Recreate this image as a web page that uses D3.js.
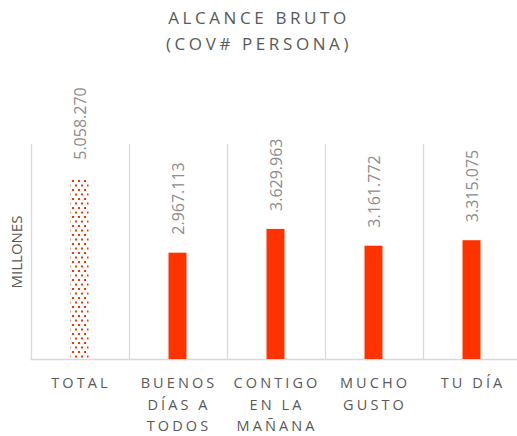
<!DOCTYPE html>
<html>
<head>
<meta charset="utf-8">
<script src="https://cdn.jsdelivr.net/npm/d3@7"></script>
<style>
  body { margin: 0; background: #fff; }
  svg { display: block; font-family: "Open Sans", sans-serif; }
</style>
</head>
<body>
<div id="chart"></div>
<script>
// chart data
const categories = ['TOTAL', 'BUENOS DÍAS A TODOS', 'CONTIGO EN LA MAÑANA', 'MUCHO GUSTO', 'TU DÍA']
const categoryLines = [['TOTAL'], ['BUENOS', 'DÍAS A', 'TODOS'], ['CONTIGO', 'EN LA', 'MAÑANA'], ['MUCHO', 'GUSTO'], ['TU DÍA']]
const values = [5058270, 2967113, 3629963, 3161772, 3315075]
const valueLabels = ['5.058.270', '2.967.113', '3.629.963', '3.161.772', '3.315.075']
const yMax = 6000000

const width = 517,
  height = 436,
  plotLeft = 30.5,
  plotRight = 520.5,
  plotTop = 144,
  plotBottom = 359

let svg = d3.select('#chart')
  .append('svg')
  .attr('width', width)
  .attr('height', height)

// dotted pattern for the total bar
const pat = svg.append('defs').append('pattern')
  .attr('id', 'dots')
  .attr('patternUnits', 'userSpaceOnUse')
  .attr('width', 6)
  .attr('height', 9)
  .attr('x', 72).attr('y', 180)
pat.append('rect').attr('x', 0).attr('y', 0).attr('width', 2).attr('height', 2).attr('fill', '#ff3300')
pat.append('rect').attr('x', 3).attr('y', 4.5).attr('width', 2).attr('height', 2).attr('fill', '#ff3300')

const xScale = d3.scaleBand()
  .domain(categories)
  .range([plotLeft, plotRight])
  .padding(0)

const yScale = d3.scaleLinear()
  .domain([0, yMax])
  .range([plotBottom, plotTop])

// vertical gridlines between categories
svg.append('g')
  .selectAll('line')
  .data(categories)
  .enter()
  .append('line')
  .attr('x1', d => Math.round(xScale(d)) + 0.5)
  .attr('x2', d => Math.round(xScale(d)) + 0.5)
  .attr('y1', plotTop)
  .attr('y2', plotBottom)
  .attr('stroke', '#d9d9d9')
  .attr('stroke-width', 1.3)

// baseline
svg.append('line')
  .attr('x1', plotLeft)
  .attr('x2', width)
  .attr('y1', plotBottom + 0.5)
  .attr('y2', plotBottom + 0.5)
  .attr('stroke', '#d9d9d9')
  .attr('stroke-width', 1.3)

const barW = 18

svg.selectAll('rect.bar')
  .data(values)
  .enter()
  .append('rect')
  .attr('class', 'bar')
  .attr('x', (d, i) => xScale(categories[i]) + xScale.bandwidth() / 2 - barW / 2)
  .attr('y', d => yScale(d))
  .attr('width', barW)
  .attr('height', d => plotBottom - yScale(d))
  .attr('fill', (d, i) => i === 0 ? 'url(#dots)' : '#ff3300')

// value labels, rotated
svg.selectAll('text.val')
  .data(values)
  .enter()
  .append('text')
  .attr('class', 'val')
  .attr('transform', (d, i) => {
    const x = xScale(categories[i]) + xScale.bandwidth() / 2 + 1
    const y = yScale(d) - 18
    return `translate(${x},${y}) rotate(-90)`
  })
  .attr('dy', '0.35em')
  .attr('font-size', 16)
  .attr('fill', '#8c8c8c')
  .text((d, i) => valueLabels[i])

// category labels
const cat = svg.selectAll('text.cat')
  .data(categoryLines)
  .enter()
  .append('text')
  .attr('class', 'cat')
  .attr('text-anchor', 'middle')
  .attr('font-size', 14.5)
  .attr('letter-spacing', 3.1)
  .attr('fill', '#595959')
cat.selectAll('tspan')
  .data((d, i) => d.map(t => ({ t, i })))
  .enter()
  .append('tspan')
  .attr('x', d => xScale(categories[d.i]) + xScale.bandwidth() / 2 + 1.5)
  .attr('y', (d, j) => 388 + j * 21.5)
  .text(d => d.t)

// title
svg.append('text')
  .attr('x', 258)
  .attr('text-anchor', 'middle')
  .attr('font-size', 17)
  .attr('letter-spacing', 3.6)
  .attr('fill', '#595959')
  .selectAll('tspan')
  .data(['ALCANCE BRUTO', '(COV# PERSONA)'])
  .enter()
  .append('tspan')
  .attr('x', 259)
  .attr('y', (d, i) => 24 + i * 26)
  .text(d => d)

// y axis title
svg.append('text')
  .attr('transform', 'translate(17,252) rotate(-90)')
  .attr('text-anchor', 'middle')
  .attr('dy', '0.35em')
  .attr('font-size', 15)
  .attr('fill', '#595959')
  .text('MILLONES')
</script>
</body>
</html>
